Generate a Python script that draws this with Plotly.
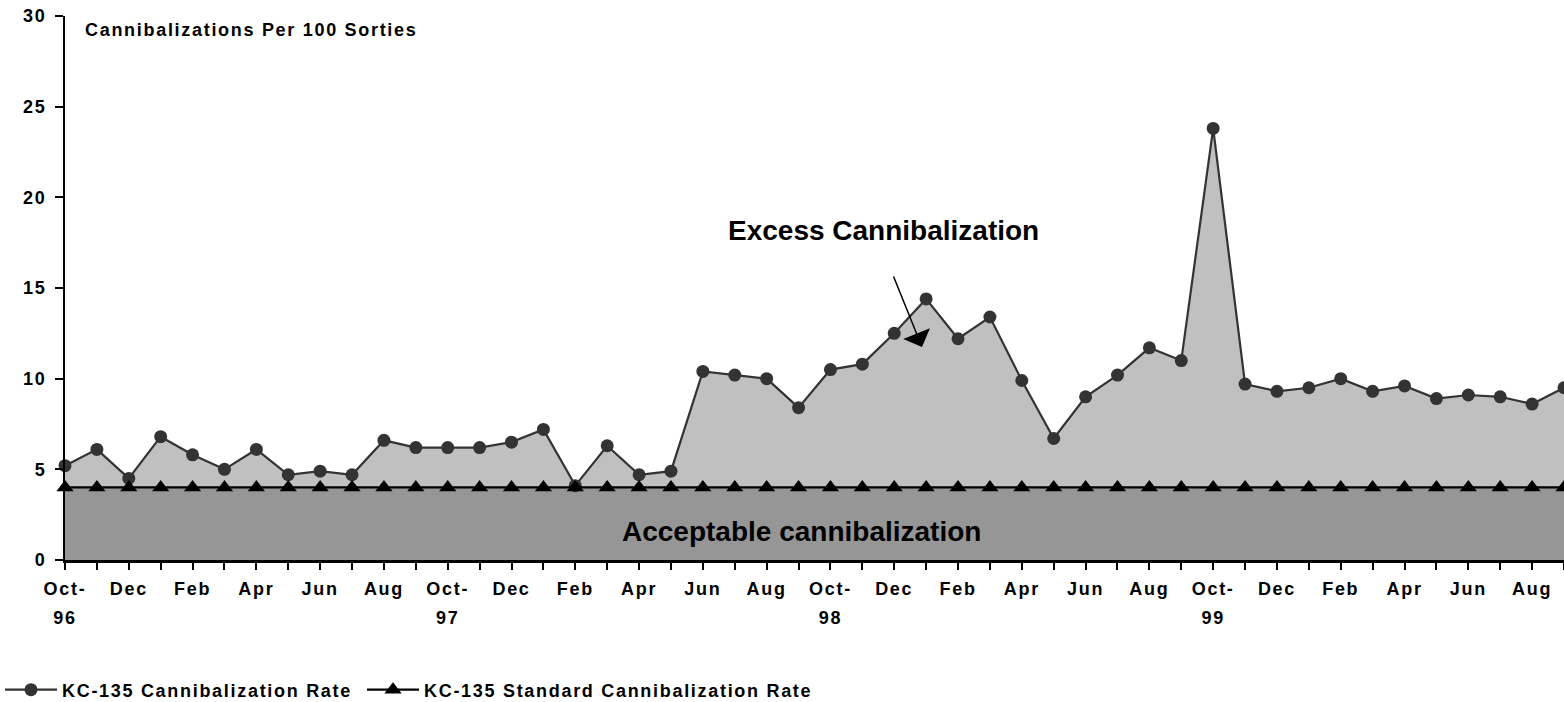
import plotly.graph_objects as go
import pandas as pd

# ---- data ----
months = [d.strftime("%b-%y") for d in pd.date_range("1996-10-01", periods=48, freq="MS")]
rate = [5.2, 6.1, 4.5, 6.8, 5.8, 5.0, 6.1, 4.7, 4.9, 4.7,
        6.6, 6.2, 6.2, 6.2, 6.5, 7.2, 4.1, 6.3, 4.7, 4.9,
        10.4, 10.2, 10.0, 8.4, 10.5, 10.8, 12.5, 14.4, 12.2, 13.4,
        9.9, 6.7, 9.0, 10.2, 11.7, 11.0, 23.8, 9.7, 9.3, 9.5,
        10.0, 9.3, 9.6, 8.9, 9.1, 9.0, 8.6, 9.5]
standard = [4.0] * 48
y_ticks = [0, 5, 10, 15, 20, 25, 30]

series_names = ["KC-135 Cannibalization Rate", "KC-135 Standard Cannibalization Rate"]

# tick labels: every other month, Oct gets year on a second line
tick_text = []
for i, m in enumerate(months):
    mon, yr = m.split("-")
    if i % 2:
        tick_text.append("")
    elif mon == "Oct":
        tick_text.append(f"Oct-<br>{yr}")
    else:
        tick_text.append(mon)

x = list(range(len(months)))
FONT = "Liberation Sans, Arial, Helvetica, sans-serif"
W, H = 1564, 702

fig = go.Figure()
# fills (no legend)
fig.add_trace(go.Scatter(x=x, y=rate, mode="none", fill="tozeroy",
                         fillcolor="#c0c0c0", showlegend=False, hoverinfo="skip"))
fig.add_trace(go.Scatter(x=x, y=standard, mode="none", fill="tozeroy",
                         fillcolor="#969696", showlegend=False, hoverinfo="skip"))
# lines
fig.add_trace(go.Scatter(x=x, y=rate, mode="lines+markers", name=series_names[0],
                         line=dict(color="#333333", width=2.2),
                         marker=dict(symbol="circle", size=13, color="#333333"),
                         cliponaxis=False, legend="legend"))
fig.add_trace(go.Scatter(x=x, y=standard, mode="lines+markers", name=series_names[1],
                         line=dict(color="#000000", width=2.2),
                         marker=dict(symbol="triangle-up", size=15, color="#000000"),
                         cliponaxis=False, legend="legend2"))

small = dict(family=FONT, size=18, color="#000000", weight="bold")

fig.update_layout(
    width=W, height=H,
    margin=dict(l=65, r=0, t=16, b=142, autoexpand=False),
    paper_bgcolor="white", plot_bgcolor="white",
    font=small,
    xaxis=dict(range=[0, 47], tickmode="array", tickvals=x, ticktext=tick_text,
               showgrid=False, zeroline=False, showline=True, linecolor="black",
               linewidth=2.5, ticks="outside", ticklen=7, tickwidth=1.5,
               tickcolor="black", tickangle=0, tickfont=small,
               ticklabelstandoff=4, automargin=False),
    yaxis=dict(range=[0, 30], tickmode="array", tickvals=y_ticks,
               showgrid=False, zeroline=False, showline=True, linecolor="black",
               linewidth=2, ticks="outside", ticklen=8, tickwidth=1.5,
               tickcolor="black", tickfont=small, ticklabelstandoff=5, automargin=False),
    legend=dict(orientation="h", xref="container", yref="container",
                x=0, xanchor="left", y=(H - 690) / H, yanchor="middle",
                font=small, itemwidth=52, bgcolor="rgba(0,0,0,0)"),
    legend2=dict(orientation="h", xref="container", yref="container",
                 x=362 / W, xanchor="left", y=(H - 690) / H, yanchor="middle",
                 font=small, itemwidth=52, bgcolor="rgba(0,0,0,0)"),
    showlegend=True,
)

fig.add_annotation(text="Cannibalizations Per 100 Sorties", xref="paper", yref="paper",
                   x=(83-65)/1499, y=(560-29.7)/544, xanchor="left", yanchor="middle",
                   align="left", showarrow=False, font=small)
big = dict(family=FONT, size=28, color="#000000", weight="bold")
fig.add_annotation(text="Excess Cannibalization", x=25.65, y=18.15, xref="x", yref="y",
                   xanchor="center", yanchor="middle", showarrow=False, font=big)
fig.add_annotation(text="Acceptable cannibalization", x=23.1, y=1.56, xref="x", yref="y",
                   xanchor="center", yanchor="middle", showarrow=False, font=big)
fig.add_annotation(text="", x=26.87, y=11.75, ax=25.96, ay=15.72, axref="x", ayref="y",
                   xref="x", yref="y", showarrow=True, arrowhead=1, arrowsize=3.2,
                   arrowwidth=1.5, arrowcolor="black", standoff=0, startstandoff=0)

post = """
document.body.style.margin = '0';
document.body.style.padding = '0';
document.body.style.overflow = 'hidden';
var gd = document.getElementById('{plot_id}');
gd.querySelectorAll('text').forEach(function(t){
  var fs = parseFloat(t.style.fontSize);
  if (fs > 15 && fs < 20) { t.style.letterSpacing = '1.7px'; }
});
gd.querySelectorAll('.xtick text tspan.line').forEach(function(s){
  var dy = s.getAttribute('dy');
  if (dy && /em$/.test(dy)) {
    var v = parseFloat(dy);
    if (v) { s.setAttribute('dy', (v * 1.6 / 1.3) + 'em'); }
  }
});
gd.querySelectorAll('g[class^="legend"] .scrollbox').forEach(function(s){
  s.removeAttribute('clip-path');
});
gd.querySelectorAll('g[class^="legend"] rect.bg').forEach(function(r){
  r.setAttribute('width', 800);
});
"""

fig.write_html("out.html", post_script=post, config={"displayModeBar": False})
